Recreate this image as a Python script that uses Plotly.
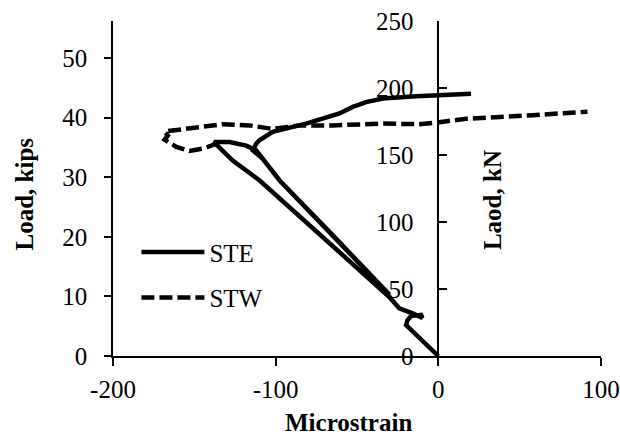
import plotly.graph_objects as go

# ---- data ----
ste_x = [0, -9.8, -16, -19.8, -19, -16.8, -10.6, -9.8, -15.8, -24, -30.1,
         -35, -57, -87, -110, -126.4, -134.5, -138,
         -128.4, -118.1, -112, -107.9, -97.7, -66.0, -46.1, -30.1,
         -46.1, -66.0, -97.7, -107.9, -114, -112, -110, -101.8, -81.3,
         -60.8, -52.6, -44.4, -34.2, -13.7, -0.4, 20.1]
ste_y = [0, 2.7, 4.4, 5.2, 6.0, 6.7, 6.9, 6.4, 7.15, 8.0, 9.9,
         11.1, 16.6, 23.9, 29.5, 32.8, 35.1, 35.9,
         35.9, 35.3, 34.5, 33.1, 29.5, 20.6, 15.0, 10.3,
         15.0, 20.6, 29.5, 33.1, 34.5, 35.6, 36.2, 37.6, 39.0,
         40.7, 41.8, 42.6, 43.2, 43.6, 43.7, 44.0]

stw_x = [-138, -136.6, -144.8, -153, -161.1, -168.3, -166.3, -168.3, -167.3,
         -146.8, -132.5, -116, -101.8, -85.4, -64.9, -34.2, -11.7, -0.4,
         17, 57.9, 91.7]
stw_y = [35.9, 35.6, 34.8, 34.4, 35.1, 36.3, 37.0, 37.6, 37.7,
         38.4, 38.9, 38.7, 38.1, 38.7, 38.7, 39.0, 38.9, 39.2,
         39.8, 40.4, 41.0]

x_ticks = [-200, -100, 0, 100]
x_ticktext = ["-200", "-100", "0", "100"]
kips_ticks = [0, 10, 20, 30, 40, 50]
kn_ticks = [0, 50, 100, 150, 200, 250]
KN_PER_KIP = 4.448
KN_MAX = 250.05

FONT = "Liberation Serif"

fig = go.Figure()
fig.add_trace(go.Scatter(x=ste_x, y=ste_y, mode="lines", name="STE", legendgroup="a",
                         line=dict(color="black", width=4.5)))
fig.add_trace(go.Scatter(x=stw_x, y=stw_y, mode="lines", name="STW", legendgroup="b",
                         line=dict(color="black", width=4.5, dash="13px,5px")))
# invisible trace to activate the kN axis
fig.add_trace(go.Scatter(x=[0], y=[0], yaxis="y2", mode="markers",
                         marker=dict(opacity=0), showlegend=False, hoverinfo="skip"))

axis_common = dict(showgrid=False, zeroline=False, showline=True, linecolor="black",
                   linewidth=1.5, tickcolor="black", tickwidth=1.5, automargin=False,
                   ticklabeloverflow="allow",
                   tickfont=dict(family=FONT, size=25, color="black"))

fig.update_layout(
    width=620, height=436,
    margin=dict(l=113, r=19, t=21, b=80),
    plot_bgcolor="white", paper_bgcolor="white",
    xaxis=dict(range=[-200, 100], tickvals=x_ticks, ticktext=x_ticktext, ticks="outside",
               ticklen=8, ticklabelstandoff=2, **axis_common),
    yaxis=dict(range=[0, KN_MAX / KN_PER_KIP], tickvals=kips_ticks, ticks="outside",
               ticklen=7, ticklabelstandoff=12, **axis_common),
    yaxis2=dict(range=[0, KN_MAX], tickvals=kn_ticks, overlaying="y", anchor="free",
                position=2 / 3, side="left", ticks="inside", ticklen=8,
                ticklabelstandoff=19, **axis_common),
    legend=dict(x=0.048, y=0.378, xanchor="left", yanchor="top",
                font=dict(family=FONT, size=25, color="black"),
                bgcolor="rgba(0,0,0,0)", itemwidth=63, tracegroupgap=10),
    showlegend=True,
    annotations=[
        dict(text="<b>Microstrain</b>", xref="paper", yref="paper", x=0.4826, y=-0.198,
             showarrow=False, font=dict(family=FONT, size=25, color="black"),
             xanchor="center", yanchor="middle"),
        dict(text="<b>Load, kips</b>", xref="paper", yref="paper", x=-0.1803, y=0.482,
             showarrow=False, textangle=-90, font=dict(family=FONT, size=25, color="black"),
             xanchor="center", yanchor="middle"),
        dict(text="<b>Laod, kN</b>", xref="paper", yref="paper", x=0.7777, y=0.464,
             showarrow=False, textangle=-90, font=dict(family=FONT, size=25, color="black"),
             xanchor="center", yanchor="middle"),
    ],
)

fig.write_html(
    "out.html",
    config={"displayModeBar": False},
    post_script="document.body.style.margin='0';document.body.style.overflow='hidden';",
)
